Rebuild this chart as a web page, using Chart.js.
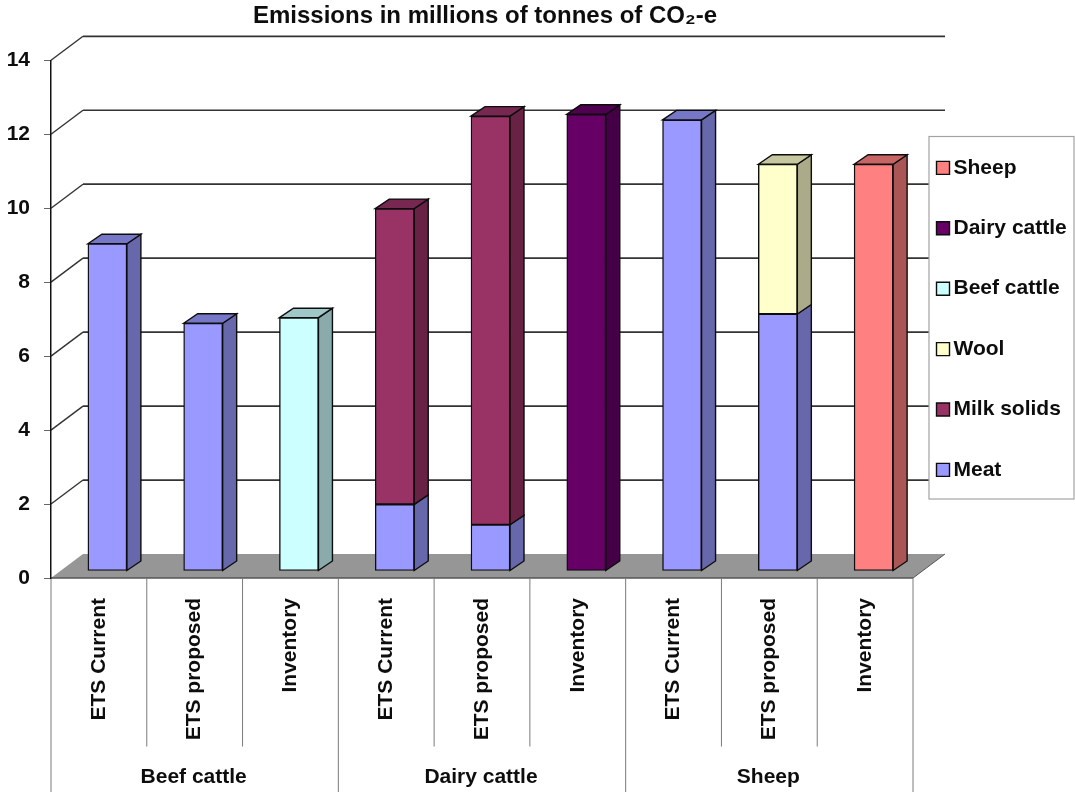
<!DOCTYPE html>
<html>
<head>
<meta charset="utf-8">
<script src="https://cdn.jsdelivr.net/npm/chart.js@4/dist/chart.umd.min.js"></script>
<style>html,body{margin:0;padding:0;background:#fff;overflow:hidden}canvas{display:block}</style>
</head>
<body>
<canvas id="c" width="1075" height="792"></canvas>
<script>
const chartTitle = "Emissions in millions of tonnes of CO₂-e";
const categories = ["ETS Current","ETS proposed","Inventory","ETS Current","ETS proposed","Inventory","ETS Current","ETS proposed","Inventory"];
const groups = ["Beef cattle","Dairy cattle","Sheep"];
const meat        = [8.85,6.7,null,1.8,1.25,null,12.2,6.95,null];
const milkSolids  = [null,null,null,8.0,11.05,null,null,null,null];
const wool        = [null,null,null,null,null,null,null,4.05,null];
const beefCattle  = [null,null,6.85,null,null,null,null,null,null];
const dairyCattle = [null,null,null,null,null,12.35,null,null,null];
const sheep       = [null,null,null,null,null,null,null,null,11.0];

const FONT = '"Liberation Sans", Arial, sans-serif';
const INK = '#0d0d0d';
const DEPTH_DX = 32, DEPTH_DY = -24;      // floor / wall depth
const BAR_DX = 8.5, BAR_DY = -7;          // bar placement inside the floor
const SIDE_DX = 14, SIDE_DY = -9.5;       // bar depth

function shade(hex, k){
  const n = parseInt(hex.slice(1),16);
  const c = [(n>>16)&255,(n>>8)&255,n&255].map(v=>Math.round(v*k));
  return `rgb(${c[0]},${c[1]},${c[2]})`;
}
function line(ctx,x1,y1,x2,y2,color,w){
  ctx.beginPath();ctx.moveTo(x1,y1);ctx.lineTo(x2,y2);
  ctx.strokeStyle=color;ctx.lineWidth=w;ctx.stroke();
}

const scene3d = {
  id:'scene3d',
  afterLayout(chart){
    const t = chart.titleBlock;
    if(t){ t.left=0; t.right=970; t.width=970; }
    const l = chart.legend;
    const w = l.right-l.left, h = l.bottom-l.top;
    l.left = 943-39.4; l.top = 118; l.right = l.left+w; l.bottom = l.top+h;
    if(l.adjustHitBoxes) l.adjustHitBoxes();
  },
  beforeDraw(chart){
    const ctx = chart.ctx, y = chart.scales.y, a = chart.chartArea;
    ctx.save();
    ctx.fillStyle='#fff';ctx.fillRect(0,0,chart.width,chart.height);
    const y0 = y.getPixelForValue(0);
    // walls
    y.ticks.forEach(t=>{
      if(t.value===0) return;
      const p = y.getPixelForValue(t.value);
      line(ctx,a.left,p,a.left+DEPTH_DX,p+DEPTH_DY,'#333',1.4);
      line(ctx,a.left+DEPTH_DX,p+DEPTH_DY,a.right+DEPTH_DX,p+DEPTH_DY,'#333',1.7);
    });
    // floor
    ctx.beginPath();
    ctx.moveTo(a.left,y0);ctx.lineTo(a.left+DEPTH_DX,y0+DEPTH_DY);
    ctx.lineTo(a.right+DEPTH_DX,y0+DEPTH_DY);ctx.lineTo(a.right,y0);ctx.closePath();
    ctx.fillStyle='#969696';ctx.fill();
    line(ctx,a.left,y0,a.right,y0,'#555',1.6);
    line(ctx,a.right,y0,a.right+DEPTH_DX,y0+DEPTH_DY,'#555',1);
    // separators under the axis
    const xs = chart.scales.x, slot = (a.right-a.left)/categories.length;
    for(let i=0;i<=categories.length;i++){
      const px = xs.getPixelForValue(0)-slot/2+i*slot;
      line(ctx,px,y0,px,i%3===0?792:746.5,'#7a7a7a',1);
    }
    // legend box
    ctx.fillStyle='#fff';ctx.strokeStyle='#a3a3a3';ctx.lineWidth=1.2;
    ctx.fillRect(929,136.5,145,362.5);ctx.strokeRect(929,136.5,145,362.5);
    ctx.restore();
  },
  beforeDatasetsDraw(chart){
    const ctx = chart.ctx;
    ctx.save();
    ctx.translate(BAR_DX,BAR_DY);
    const tops = {};
    chart.data.datasets.forEach((ds,i)=>{
      chart.getDatasetMeta(i).data.forEach((el,j)=>{
        if(ds.data[j]===null) return;
        const r = el.x+el.width/2, l = el.x-el.width/2;
        ctx.beginPath();
        ctx.moveTo(r,el.base);ctx.lineTo(r+SIDE_DX,el.base+SIDE_DY);
        ctx.lineTo(r+SIDE_DX,el.y+SIDE_DY);ctx.lineTo(r,el.y);ctx.closePath();
        ctx.fillStyle=shade(ds.backgroundColor,0.67);ctx.fill();
        ctx.strokeStyle=INK;ctx.lineWidth=1.4;ctx.stroke();
        tops[j]={el,l,r,color:ds.backgroundColor};
      });
    });
    Object.values(tops).forEach(({el,l,r,color})=>{
      ctx.beginPath();
      ctx.moveTo(l,el.y);ctx.lineTo(l+SIDE_DX,el.y+SIDE_DY);
      ctx.lineTo(r+SIDE_DX,el.y+SIDE_DY);ctx.lineTo(r,el.y);ctx.closePath();
      ctx.fillStyle=shade(color,0.78);ctx.fill();
      ctx.strokeStyle=INK;ctx.lineWidth=1.4;ctx.stroke();
    });
  },
  afterDatasetsDraw(chart){ chart.ctx.restore(); },
  afterDraw(chart){
    const ctx = chart.ctx, xs = chart.scales.x;
    ctx.save();
    ctx.font = 'bold 21px '+FONT;ctx.fillStyle=INK;
    ctx.textAlign='center';ctx.textBaseline='middle';
    groups.forEach((g,i)=>ctx.fillText(g,xs.getPixelForValue(i*3+1)-1,777));
    ctx.restore();
  }
};

new Chart(document.getElementById('c'),{
  type:'bar',
  data:{labels:categories,datasets:[
    {label:'Meat',data:meat,backgroundColor:'#9999FF'},
    {label:'Milk solids',data:milkSolids,backgroundColor:'#993366'},
    {label:'Wool',data:wool,backgroundColor:'#FFFFCC'},
    {label:'Beef cattle',data:beefCattle,backgroundColor:'#CCFFFF'},
    {label:'Dairy cattle',data:dairyCattle,backgroundColor:'#660066'},
    {label:'Sheep',data:sheep,backgroundColor:'#FF8080'}
  ].map(d=>({...d,borderColor:INK,borderWidth:1.4,borderSkipped:false,barThickness:39}))},
  options:{
    responsive:false,animation:false,
    layout:{padding:{left:0,right:162,top:0,bottom:0}},
    plugins:{
      tooltip:{enabled:false},
      title:{display:true,text:chartTitle,color:INK,font:{family:FONT,size:24,weight:'bold'},padding:{top:2,bottom:29.5}},
      legend:{position:'chartArea',align:'start',reverse:true,
        labels:{usePointStyle:true,pointStyle:'rect',boxWidth:0.01,boxHeight:13,padding:39.4,color:INK,
          font:{family:FONT,size:21,weight:'bold'}}}
    },
    scales:{
      x:{stacked:true,
        grid:{display:false,drawTicks:false},border:{display:false},
        afterFit(s){s.height=214;},
        ticks:{autoSkip:false,minRotation:90,maxRotation:90,padding:20,color:INK,font:{family:FONT,size:21,weight:'bold'}}},
      y:{stacked:true,min:0,max:14,
        grid:{drawOnChartArea:false,drawTicks:true,tickLength:7,color:'#666'},
        border:{display:true,color:'#111',width:1.5},
        afterFit(s){s.width=51;},
        ticks:{stepSize:2,padding:14,color:INK,font:{family:FONT,size:21,weight:'bold'}}}
    }
  },
  plugins:[scene3d]
});
</script>
</body>
</html>
